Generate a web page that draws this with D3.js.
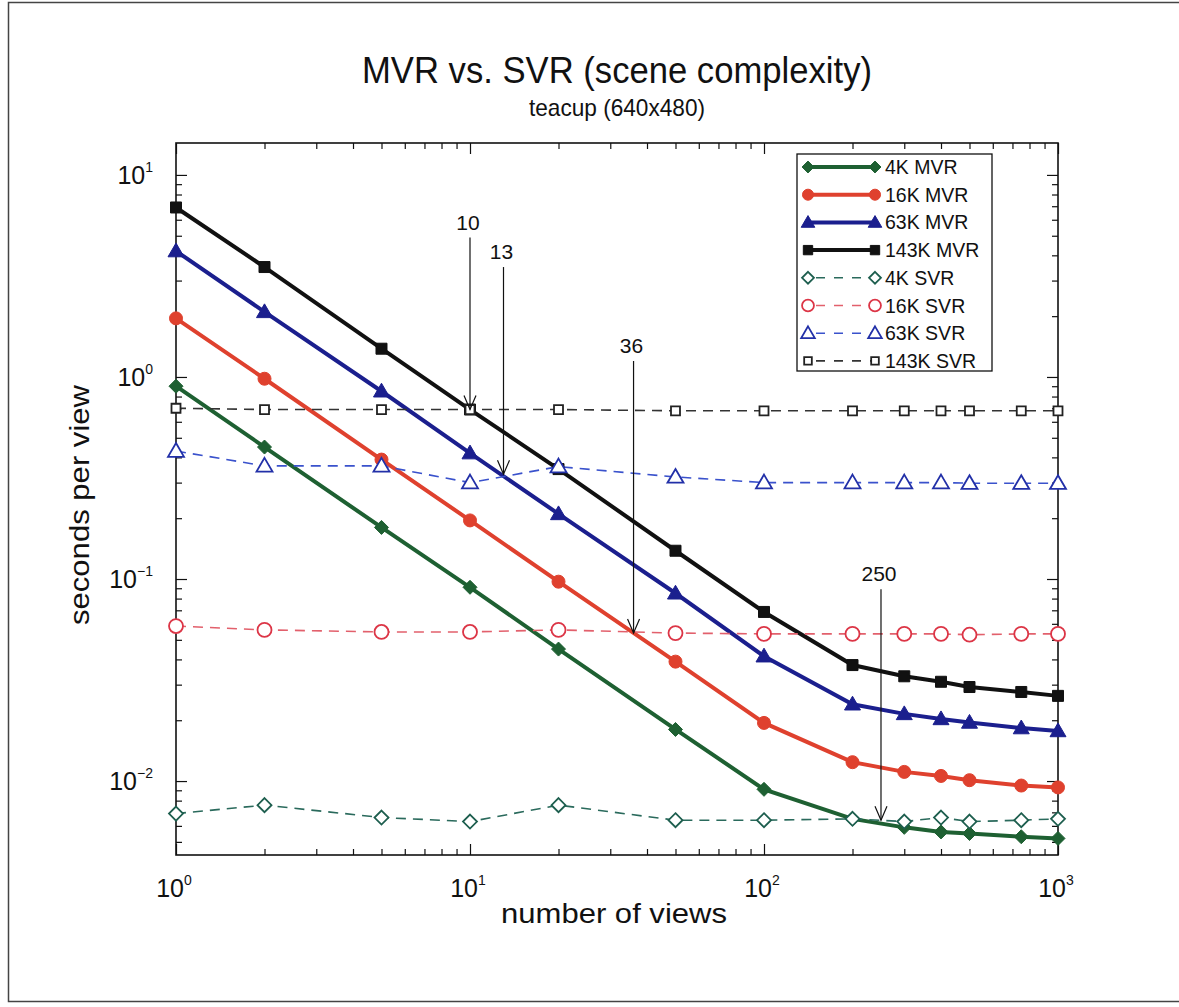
<!DOCTYPE html>
<html>
<head>
<meta charset="utf-8">
<script src="https://cdn.jsdelivr.net/npm/d3@7"></script>
<style>
  body { margin: 0; background: #fff; }
  text { font-family: "Liberation Sans", Arial, sans-serif; fill: #111; }
</style>
</head>
<body>
<div id="chart"></div>
<script>
// number of views (x)
const views = [1, 2, 5, 10, 20, 50, 100, 200, 300, 400, 500, 750, 1000];

// seconds per view
const mvr4k   = [0.90, 0.45, 0.18, 0.091, 0.045, 0.018, 0.0091, 0.0065, 0.0059, 0.0056, 0.0055, 0.0053, 0.0052];
const mvr16k  = [1.95, 0.98, 0.39, 0.195, 0.097, 0.039, 0.0194, 0.0124, 0.0111, 0.0106, 0.0101, 0.0095, 0.0093];
const mvr63k  = [4.2, 2.1, 0.85, 0.42, 0.21, 0.085, 0.0415, 0.024, 0.0215, 0.0203, 0.0195, 0.0183, 0.0177];
const mvr143k = [6.9, 3.5, 1.38, 0.69, 0.35, 0.138, 0.0687, 0.0375, 0.033, 0.031, 0.0292, 0.0276, 0.0264];
const svr4k   = [0.0069, 0.0076, 0.0066, 0.0063, 0.0076, 0.0064, 0.0064, 0.0065, 0.0063, 0.0066, 0.0063, 0.0064, 0.0065];
const svr16k  = [0.0585, 0.056, 0.0547, 0.0547, 0.056, 0.054, 0.0535, 0.0535, 0.0535, 0.0535, 0.053, 0.0535, 0.0535];
const svr63k  = [0.43, 0.363, 0.363, 0.30, 0.36, 0.32, 0.30, 0.30, 0.30, 0.30, 0.298, 0.298, 0.298];
const svr143k = [0.70, 0.69, 0.69, 0.69, 0.69, 0.68, 0.68, 0.68, 0.68, 0.68, 0.68, 0.68, 0.68];

const seriesNames = ["4K MVR", "16K MVR", "63K MVR", "143K MVR", "4K SVR", "16K SVR", "63K SVR", "143K SVR"];

// crossover annotations
const annoViews = [10, 13, 36, 250];
const annoLabels = ["10", "13", "36", "250"];
const annoTip = [0.69, 0.33, 0.054, 0.0064];
const annoTop = [4.9, 3.5, 1.2, 0.089];

const xTickExp = [0, 1, 2, 3];
const yTickExp = [-2, -1, 0, 1];

const W = 1179, H = 1007;
const svg = d3.select("#chart").append("svg")
  .attr("width", W).attr("height", H);

// outer frame
svg.append("path")
  .attr("d", "M1179,2.5 H8.5 V1001.5 H1179")
  .attr("fill", "none").attr("stroke", "#444").attr("stroke-width", 1.5);

const pLeft = 176, pRight = 1058, pTop = 143, pBottom = 855;
const x = d3.scaleLog().domain([1, 1000]).range([pLeft, pRight]);
const y = d3.scaleLog().domain([Math.pow(10, -2.366), Math.pow(10, 1.158)]).range([pBottom, pTop]);

// title
svg.append("text").attr("x", 617).attr("y", 83).attr("text-anchor", "middle")
  .style("font-size", "37px").attr("textLength", 510).attr("lengthAdjust", "spacingAndGlyphs")
  .text("MVR vs. SVR (scene complexity)");
svg.append("text").attr("x", 617).attr("y", 116).attr("text-anchor", "middle")
  .style("font-size", "24px").attr("textLength", 176).attr("lengthAdjust", "spacingAndGlyphs")
  .text("teacup (640x480)");

// ticks (inside, on all four sides)
const majorX = xTickExp.map(e => Math.pow(10, e));
const minorX = [];
for (let e = 0; e < 3; e++) for (let m = 2; m <= 9; m++) minorX.push(m * Math.pow(10, e));
const majorY = yTickExp.map(e => Math.pow(10, e));
const minorY = [];
for (let e = -3; e < 2; e++) for (let m = 2; m <= 9; m++) {
  const v = m * Math.pow(10, e);
  if (v > y.domain()[0] && v < y.domain()[1]) minorY.push(v);
}

function tickAxis(axis, vals, size, tr) {
  const g = svg.append("g").attr("transform", tr)
    .call(axis.tickValues(vals).tickSize(size).tickFormat(() => ""));
  g.select(".domain").remove();
  g.selectAll(".tick line").attr("stroke", "#111").attr("stroke-width", 1.2);
}
tickAxis(d3.axisBottom(x), majorX, -11, `translate(0,${pBottom})`);
tickAxis(d3.axisBottom(x), minorX, -6, `translate(0,${pBottom})`);
tickAxis(d3.axisTop(x), majorX, -11, `translate(0,${pTop})`);
tickAxis(d3.axisTop(x), minorX, -6, `translate(0,${pTop})`);
tickAxis(d3.axisLeft(y), majorY, -11, `translate(${pLeft},0)`);
tickAxis(d3.axisLeft(y), minorY, -6, `translate(${pLeft},0)`);
tickAxis(d3.axisRight(y), majorY, -11, `translate(${pRight},0)`);
tickAxis(d3.axisRight(y), minorY, -6, `translate(${pRight},0)`);

svg.append("rect").attr("x", pLeft).attr("y", pTop)
  .attr("width", pRight - pLeft).attr("height", pBottom - pTop)
  .attr("fill", "none").attr("stroke", "#111").attr("stroke-width", 1.6);

// tick labels 10^n
xTickExp.forEach(e => {
  const t = svg.append("text").attr("x", x(Math.pow(10, e)) - 2).attr("y", 897)
    .attr("text-anchor", "middle").style("font-size", "25px");
  t.append("tspan").text("10");
  t.append("tspan").attr("dy", -12).style("font-size", "14px").text(e);
});
yTickExp.forEach(e => {
  const t = svg.append("text").attr("x", 153).attr("y", y(Math.pow(10, e)) + 9)
    .attr("text-anchor", "end").style("font-size", "25px");
  t.append("tspan").text("10");
  t.append("tspan").attr("dy", -12).style("font-size", "14px").text(e > 0 ? e : e === 0 ? "0" : "\u2212" + (-e));
});

// axis titles
svg.append("text").attr("x", 614).attr("y", 923).attr("text-anchor", "middle")
  .style("font-size", "27px").attr("textLength", 226).attr("lengthAdjust", "spacingAndGlyphs")
  .text("number of views");
svg.append("text").attr("transform", "translate(89,505) rotate(-90)").attr("text-anchor", "middle")
  .style("font-size", "27px").attr("textLength", 240).attr("lengthAdjust", "spacingAndGlyphs")
  .text("seconds per view");

// series definitions
const series = [
  { name: seriesNames[0], vals: mvr4k,   color: "#1e6032", line: "#1e6032", shape: "diamond",  r: 7,   filled: true },
  { name: seriesNames[1], vals: mvr16k,  color: "#df412e", line: "#df412e", shape: "circle",   r: 6.5, filled: true },
  { name: seriesNames[2], vals: mvr63k,  color: "#1b1f8e", line: "#1b1f8e", shape: "triangle", r: 8,   filled: true },
  { name: seriesNames[3], vals: mvr143k, color: "#111111", line: "#111111", shape: "square",   r: 5.5, filled: true },
  { name: seriesNames[4], vals: svr4k,   color: "#1d5e4e", line: "#2a6a5c", shape: "diamond",  r: 7,   filled: false },
  { name: seriesNames[5], vals: svr16k,  color: "#dc3546", line: "#e2606c", shape: "circle",   r: 7,   filled: false },
  { name: seriesNames[6], vals: svr63k,  color: "#2230a8", line: "#3a52cc", shape: "triangle", r: 8,   filled: false },
  { name: seriesNames[7], vals: svr143k, color: "#222222", line: "#333333", shape: "square",   r: 4.5, filled: false }
];

function shapePath(shape, r) {
  if (shape === "diamond") return `M0,${-r}L${r},0L0,${r}L${-r},0Z`;
  if (shape === "triangle") return `M0,${-r}L${r},${r * 0.72}L${-r},${r * 0.72}Z`;
  if (shape === "square") return `M${-r},${-r}H${r}V${r}H${-r}Z`;
  return d3.symbol(d3.symbolCircle, Math.PI * r * r)();
}

function drawMarker(g, s, cx, cy) {
  g.append("path").attr("d", shapePath(s.shape, s.r))
    .attr("transform", `translate(${cx},${cy})`)
    .attr("fill", s.filled ? s.color : "#fff")
    .attr("stroke", s.color)
    .attr("stroke-width", s.filled ? 1 : 1.8);
}

const line = d3.line().x((d, i) => x(views[i])).y(d => y(d));
const plot = svg.append("g");

series.forEach(s => {
  plot.append("path").datum(s.vals).attr("d", line)
    .attr("fill", "none").attr("stroke", s.line)
    .attr("stroke-width", s.filled ? 4 : 1.6)
    .attr("stroke-dasharray", s.filled ? null : "10,7");
});
series.forEach(s => {
  s.vals.forEach((v, i) => drawMarker(plot, s, x(views[i]), y(v)));
});

// annotations
annoViews.forEach((n, i) => {
  const ax = x(n), y0 = y(annoTop[i]), y1 = y(annoTip[i]);
  const g = svg.append("g").attr("stroke", "#111").attr("stroke-width", 1.2).attr("fill", "none");
  g.append("line").attr("x1", ax).attr("x2", ax).attr("y1", y0).attr("y2", y1);
  g.append("path").attr("d", `M${ax - 6},${y1 - 14}L${ax},${y1}L${ax + 6},${y1 - 14}`);
  svg.append("text").attr("x", ax - 2).attr("y", y0 - 8).attr("text-anchor", "middle")
    .style("font-size", "21px").text(annoLabels[i]);
});

// legend
const lg = svg.append("g");
lg.append("rect").attr("x", 797).attr("y", 154).attr("width", 195).attr("height", 217)
  .attr("fill", "#fff").attr("stroke", "#111").attr("stroke-width", 1.3);
series.forEach((s, i) => {
  const ly = 167 + i * 27.7;
  lg.append("line").attr("x1", 808).attr("x2", 875).attr("y1", ly).attr("y2", ly)
    .attr("stroke", s.line).attr("stroke-width", s.filled ? 4 : 1.6)
    .attr("stroke-dasharray", s.filled ? null : "9,9").attr("stroke-dashoffset", -8);
  const ms = Object.assign({}, s, { r: s.r * 0.85 });
  drawMarker(lg, ms, 808, ly);
  drawMarker(lg, ms, 875, ly);
  lg.append("text").attr("x", 885).attr("y", ly + 7).style("font-size", "19.5px").text(s.name);
});
</script>
</body>
</html>
